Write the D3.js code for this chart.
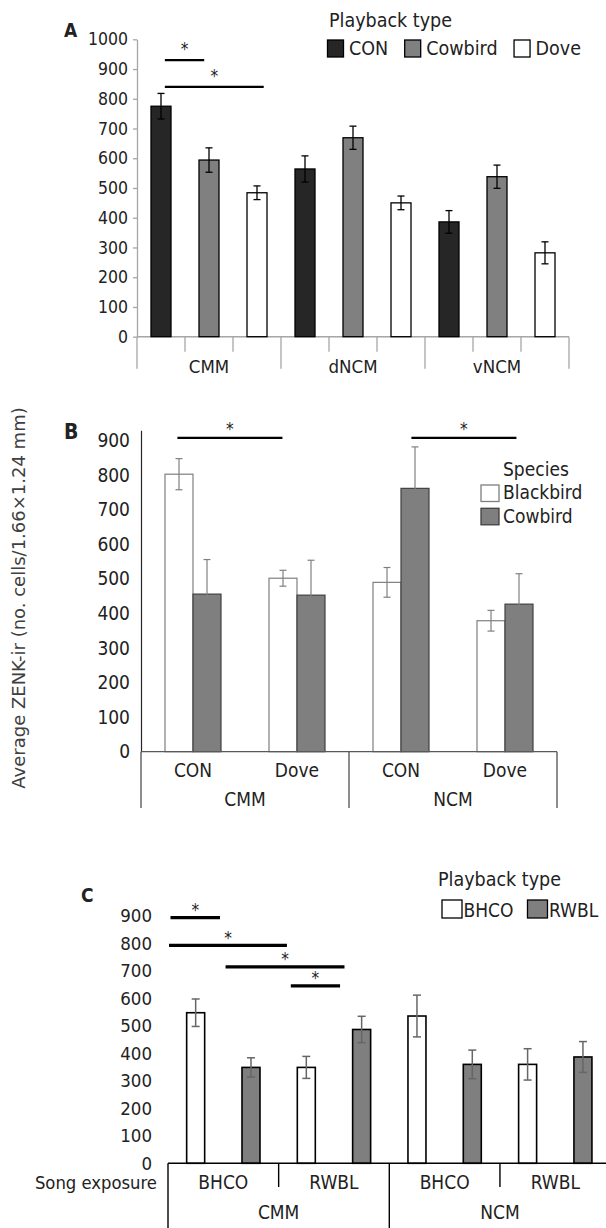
<!DOCTYPE html>
<html>
<head>
<meta charset="utf-8">
<script src="https://cdn.jsdelivr.net/npm/d3@7"></script>
<style>
body { margin: 0; background: #fff; }
svg text { font-family: "DejaVu Sans Condensed", "DejaVu Sans", sans-serif; font-stretch: condensed; fill: #222; }
</style>
</head>
<body>
<svg id="chart" width="606" height="1228"></svg>
<script>
// ---- panel A data
var aRegions = ["CMM", "dNCM", "vNCM"];
var aPlayback = ["CON", "Cowbird", "Dove"];
var aMeans = [[775, 594, 484], [564, 669, 450], [386, 538, 282]];
var aErrors = [[43, 41, 23], [44, 39, 23], [38, 39, 37]];
var aTicks = [0, 100, 200, 300, 400, 500, 600, 700, 800, 900, 1000];
// [from slot, to slot, level]
var aSig = [[0.58, 1.4, 930], [0.58, 2.64, 840]];

// ---- panel B data
var bRegions = ["CMM", "NCM"];
var bPlayback = ["CON", "Dove"];
var bSpecies = ["Blackbird", "Cowbird"];
var bMeans = [[803, 456], [502, 453], [490, 762], [379, 427]];
var bErrors = [[45, 100], [23, 101], [43, 120], [30, 88]];
var bTicks = [0, 100, 200, 300, 400, 500, 600, 700, 800, 900];
var bSig = [[0.35, 1.36, 908], [2.6, 3.61, 908]];

// ---- panel C data
var cRegions = ["CMM", "NCM"];
var cExposure = ["BHCO", "RWBL"];
var cPlayback = ["BHCO", "RWBL"];
var cMeans = [[548, 349], [349, 487], [536, 360], [360, 387]];
var cErrors = [[50, 35], [40, 48], [76, 52], [57, 56]];
var cTicks = [0, 100, 200, 300, 400, 500, 600, 700, 800, 900];
var cSig = [[0.045, 0.94, 894], [0.018, 2.15, 793], [1.04, 3.19, 715], [2.22, 3.11, 646]];

var svg = d3.select("#chart");

function errorBars(g, data, x, y, cap, color, w) {
    var e = g.selectAll(null).data(data).enter().append("g");
    e.append("line")
        .attr("x1", function(d) { return x(d); }).attr("x2", function(d) { return x(d); })
        .attr("y1", function(d) { return y(d.mean + d.err); })
        .attr("y2", function(d) { return y(d.mean - d.err); });
    e.append("line")
        .attr("x1", function(d) { return x(d) - cap / 2; }).attr("x2", function(d) { return x(d) + cap / 2; })
        .attr("y1", function(d) { return y(d.mean + d.err); }).attr("y2", function(d) { return y(d.mean + d.err); });
    e.append("line")
        .attr("x1", function(d) { return x(d) - cap / 2; }).attr("x2", function(d) { return x(d) + cap / 2; })
        .attr("y1", function(d) { return y(d.mean - d.err); }).attr("y2", function(d) { return y(d.mean - d.err); });
    e.selectAll("line").style("stroke", color).style("stroke-width", w);
}

function sigBars(g, data, x, y, w, lift) {
    var s = g.selectAll(null).data(data).enter().append("g");
    s.append("line")
        .attr("x1", function(d) { return x(d[0]); })
        .attr("x2", function(d) { return x(d[1]); })
        .attr("y1", function(d) { return y(d[2]); })
        .attr("y2", function(d) { return y(d[2]); })
        .style("stroke", "#000").style("stroke-width", w);
    s.append("text")
        .attr("x", function(d) { return (x(d[0]) + x(d[1])) / 2; })
        .attr("y", function(d) { return y(d[2]) - lift; })
        .attr("text-anchor", "middle")
        .style("font-size", "17px")
        .text("*");
}

function legendRow(g, items, x0, y0, size, colors, strokes, gap, baseline, fs) {
    var x = x0;
    items.forEach(function(name, i) {
        g.append("rect").attr("x", x).attr("y", y0).attr("width", size[0]).attr("height", size[1])
            .style("fill", colors[i]).style("stroke", strokes[i]).style("stroke-width", 1.3);
        var t = g.append("text").attr("x", x + size[0] + size[2]).attr("y", baseline)
            .style("font-size", fs).text(name);
        x = x + size[0] + size[2] + t.node().getComputedTextLength() + gap;
    });
}

var fmt = d3.format("d");

// =============== A
var gA = svg.append("g");
var xA = d3.scaleLinear().domain([0, 9]).range([137, 569]);
var yA = d3.scaleLinear().domain([0, 1000]).range([336.7, 39.3]);
var aColors = ["#262626", "#808080", "#ffffff"];

var barsA = [];
aRegions.forEach(function(r, i) {
    aPlayback.forEach(function(p, j) {
        barsA.push({slot: i * 3 + j, type: j, mean: aMeans[i][j], err: aErrors[i][j]});
    });
});

var axA = gA.append("g")
    .attr("transform", "translate(" + xA(0) + ",0)")
    .call(d3.axisLeft(yA).tickValues(aTicks).tickFormat(fmt).tickSize(4).tickSizeOuter(0).tickPadding(5));
axA.selectAll("path, line").style("stroke", "#a6a6a6").style("stroke-width", 1.3);
axA.selectAll("text").style("font-size", "17.5px").style("fill", "#222");

gA.append("line")
    .attr("x1", xA(0)).attr("x2", xA(9)).attr("y1", yA(0)).attr("y2", yA(0))
    .style("stroke", "#a6a6a6").style("stroke-width", 1.5);
gA.selectAll(".tickA").data(d3.range(10)).enter().append("line")
    .attr("x1", function(d) { return xA(d); }).attr("x2", function(d) { return xA(d); })
    .attr("y1", yA(0))
    .attr("y2", function(d) { return d % 3 == 0 ? yA(0) + 32 : yA(0) + 15; })
    .style("stroke", "#a6a6a6").style("stroke-width", 1.3);

gA.selectAll(".barA").data(barsA).enter().append("rect")
    .attr("x", function(d) { return xA(d.slot + 0.5) - 10; })
    .attr("y", function(d) { return yA(d.mean); })
    .attr("width", 20)
    .attr("height", function(d) { return yA(0) - yA(d.mean); })
    .style("fill", function(d) { return aColors[d.type]; })
    .style("stroke", "#000").style("stroke-width", 1.3);

errorBars(gA, barsA, function(d) { return xA(d.slot + 0.5); }, yA, 7, "#000", 1.3);

gA.selectAll(".grpA").data(aRegions).enter().append("text")
    .attr("x", function(d, i) { return xA(i * 3 + 1.5); })
    .attr("y", 373)
    .attr("text-anchor", "middle")
    .style("font-size", "18.5px")
    .text(function(d) { return d; });

sigBars(gA, aSig, xA, yA, 2.2, 5);

gA.append("text").attr("x", 64).attr("y", 37).style("font-size", "19px").style("font-weight", "bold").text("A");
gA.append("text").attr("x", 329).attr("y", 27).style("font-size", "19.5px").text("Playback type");
legendRow(gA, aPlayback, 327.5, 40, [16, 17, 5.5], aColors, ["#000", "#000", "#000"], 16.5, 55, "19.5px");

// =============== B
var gB = svg.append("g");
var xB = d3.scaleLinear().domain([0, 4]).range([141, 557]);
var yB = d3.scaleLinear().domain([0, 930]).range([751.7, 430.3]);
var bColors = ["#ffffff", "#7f7f7f"];
var bStrokes = ["#7f7f7f", "#404040"];

var barsB = [];
bRegions.forEach(function(r, i) {
    bPlayback.forEach(function(p, j) {
        bSpecies.forEach(function(s, k) {
            var c = i * 2 + j;
            barsB.push({cat: c, sp: k, mean: bMeans[c][k], err: bErrors[c][k]});
        });
    });
});

var axB = gB.append("g")
    .attr("transform", "translate(" + xB(0) + ",0)")
    .call(d3.axisLeft(yB).tickValues(bTicks).tickFormat(fmt).tickSize(0).tickSizeOuter(0).tickPadding(11));
axB.select(".domain").style("stroke", "#262626").style("stroke-width", 1.2);
axB.selectAll("text").style("font-size", "19px").style("fill", "#222");

gB.selectAll(".barB").data(barsB).enter().append("rect")
    .attr("x", function(d) { return xB(d.cat + 0.5) - 28 + d.sp * 28; })
    .attr("y", function(d) { return yB(d.mean); })
    .attr("width", 28)
    .attr("height", function(d) { return yB(0) - yB(d.mean); })
    .style("fill", function(d) { return bColors[d.sp]; })
    .style("stroke", function(d) { return bStrokes[d.sp]; })
    .style("stroke-width", 1.2);

errorBars(gB, barsB, function(d) { return xB(d.cat + 0.5) - 14 + d.sp * 28; }, yB, 7, "#808080", 1.2);

gB.append("line")
    .attr("x1", xB(0)).attr("x2", xB(4)).attr("y1", yB(0)).attr("y2", yB(0))
    .style("stroke", "#595959").style("stroke-width", 1.3);
gB.selectAll(".tickB").data([0, 2, 4]).enter().append("line")
    .attr("x1", function(d) { return xB(d); }).attr("x2", function(d) { return xB(d); })
    .attr("y1", yB(0)).attr("y2", 808)
    .style("stroke", "#404040").style("stroke-width", 1.2);

gB.selectAll(".catB").data(d3.range(4)).enter().append("text")
    .attr("x", function(d) { return xB(d + 0.5); })
    .attr("y", 777)
    .attr("text-anchor", "middle")
    .style("font-size", "19px")
    .text(function(d) { return bPlayback[d % 2]; });
gB.selectAll(".grpB").data(bRegions).enter().append("text")
    .attr("x", function(d, i) { return xB(i * 2 + 1); })
    .attr("y", 806)
    .attr("text-anchor", "middle")
    .style("font-size", "19px")
    .text(function(d) { return d; });

sigBars(gB, bSig, xB, yB, 2.2, 3);

gB.append("text").attr("x", 64).attr("y", 439).style("font-size", "21px").style("font-weight", "bold").text("B");
gB.append("text").attr("x", 503).attr("y", 476).style("font-size", "19px").text("Species");
bSpecies.forEach(function(s, k) {
    gB.append("rect").attr("x", 481).attr("y", 485 + k * 23.3).attr("width", 18).attr("height", 16.5)
        .style("fill", bColors[k]).style("stroke", bStrokes[k]).style("stroke-width", 1.3);
    gB.append("text").attr("x", 503).attr("y", 499.3 + k * 23.4).style("font-size", "19px").text(s);
});

gB.append("text")
    .attr("transform", "translate(25,598) rotate(-90)")
    .attr("text-anchor", "middle")
    .style("font-family", "'DejaVu Sans', sans-serif")
    .style("font-stretch", "normal")
    .style("font-size", "18px")
    .style("fill", "#404040")
    .text("Average ZENK-ir (no. cells/1.66\u00d71.24 mm)");

// =============== C
var gC = svg.append("g");
var xC = d3.scaleLinear().domain([0, 8]).range([168, 610.6]);
var yC = d3.scaleLinear().domain([0, 900]).range([1163.3, 916]);
var cColors = ["#ffffff", "#7f7f7f"];

var barsC = [];
cRegions.forEach(function(r, i) {
    cExposure.forEach(function(e, j) {
        cPlayback.forEach(function(p, k) {
            var c = i * 2 + j;
            barsC.push({slot: c * 2 + k, pb: k, mean: cMeans[c][k], err: cErrors[c][k]});
        });
    });
});

var axC = gC.append("g")
    .attr("transform", "translate(" + xC(0) + ",0)")
    .call(d3.axisLeft(yC).tickValues(cTicks).tickFormat(fmt).tickSize(0).tickSizeOuter(0).tickPadding(16));
axC.select(".domain").remove();
axC.selectAll("text").style("font-size", "18.5px").style("fill", "#222");

gC.selectAll(".barC").data(barsC).enter().append("rect")
    .attr("x", function(d) { return xC(d.slot + 0.5) - 9; })
    .attr("y", function(d) { return yC(d.mean); })
    .attr("width", 18)
    .attr("height", function(d) { return yC(0) - yC(d.mean); })
    .style("fill", function(d) { return cColors[d.pb]; })
    .style("stroke", "#000").style("stroke-width", 1.6);

errorBars(gC, barsC, function(d) { return xC(d.slot + 0.5); }, yC, 8, "#666", 1.5);

gC.append("line")
    .attr("x1", xC(0)).attr("x2", xC(8)).attr("y1", yC(0)).attr("y2", yC(0))
    .style("stroke", "#000").style("stroke-width", 1.6);
gC.selectAll(".tickC").data([0, 2, 4, 6]).enter().append("line")
    .attr("x1", function(d) { return xC(d); }).attr("x2", function(d) { return xC(d); })
    .attr("y1", yC(0))
    .attr("y2", function(d) { return d % 4 == 0 ? 1228 : 1187; })
    .style("stroke", "#000").style("stroke-width", 1.4);

gC.selectAll(".catC").data(d3.range(4)).enter().append("text")
    .attr("x", function(d) { return xC(d * 2 + 1); })
    .attr("y", 1189)
    .attr("text-anchor", "middle")
    .style("font-size", "19px")
    .text(function(d) { return cExposure[d % 2]; });
gC.selectAll(".grpC").data(cRegions).enter().append("text")
    .attr("x", function(d, i) { return xC(i * 4 + 2); })
    .attr("y", 1219)
    .attr("text-anchor", "middle")
    .style("font-size", "19px")
    .text(function(d) { return d; });
gC.append("text").attr("x", 157).attr("y", 1189).attr("text-anchor", "end")
    .style("font-size", "18.3px").text("Song exposure");

sigBars(gC, cSig, xC, yC, 3.2, 1.5);

gC.append("text").attr("x", 81).attr("y", 902).style("font-size", "19px").style("font-weight", "bold").text("C");
gC.append("text").attr("x", 438).attr("y", 886).style("font-size", "19.5px").text("Playback type");
legendRow(gC, cPlayback, 442, 900, [20, 18, 1.5], cColors, ["#000", "#000"], 14, 917.3, "19px");
</script>
</body>
</html>
